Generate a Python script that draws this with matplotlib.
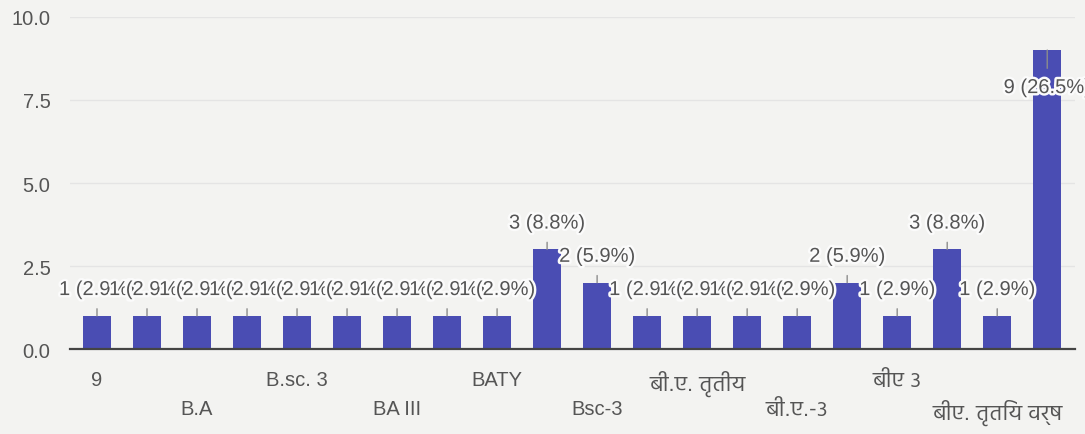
import matplotlib
matplotlib.use("Agg")
import matplotlib.pyplot as plt
import matplotlib.patheffects as pe
import numpy as np

# response counts per answer, in the order the form listed them
counts = [1, 1, 1, 1, 1, 1, 1, 1, 1, 3, 2, 1, 1, 1, 1, 2, 1, 3, 1, 9]
total = 34

# only every other answer gets a label on the axis
shown_labels = ["9", "B.A", "B.sc. 3", "BA III", "BATY", "Bsc-3",
                "बी.ए. तृतीय", "बी.ए.-३", "बीए ३", "बीए. तृतिय वर्ष"]

y_ticks = [0.0, 2.5, 5.0, 7.5, 10.0]

fonts = ["Liberation Sans", "Hind", "DejaVu Sans"]
bar_color = "#4a4db3"
text_color = "#555555"
paper = "#f3f3f1"

fig = plt.figure(figsize=(10.85, 4.35), dpi=100, facecolor=paper)
ax = fig.add_axes([0.0645, 0.195, 0.9265, 0.764], facecolor=paper)

x = np.arange(len(counts))
ax.bar(x, counts, width=0.57, color=bar_color, zorder=2)

ax.set_xlim(-0.54, 19.56)
ax.set_ylim(0, 10)
ax.set_yticks(y_ticks)
ax.set_yticklabels([f"{v:.1f}" for v in y_ticks], fontfamily=fonts,
                   fontsize=14.5, color=text_color)
ax.grid(axis="y", color="#e4e4e4", lw=1, zorder=0)
ax.tick_params(axis="both", length=0)
ax.tick_params(axis="y", pad=14)

ax.set_xticks(x[::2])
ax.set_xticklabels(shown_labels, fontfamily=fonts, fontsize=14.5,
                   color=text_color)
for i, tick in enumerate(ax.xaxis.get_major_ticks()):
    tick.set_pad(15 if i % 2 == 0 else 36)
for lbl in ax.get_xticklabels():
    # Devanagari runs small next to the Latin face, so bump it
    if any("\u0900" <= ch <= "\u097f" for ch in lbl.get_text()):
        lbl.set_fontsize(16)

for side in ["top", "right", "left"]:
    ax.spines[side].set_visible(False)
ax.spines["bottom"].set_color("#444444")
ax.spines["bottom"].set_linewidth(1.6)
ax.spines["bottom"].set_zorder(3)

# value labels with leader lines; each has a white halo so the later
# ones knock out the earlier ones where they collide
halo = [pe.withStroke(linewidth=3.5, foreground="#fbfbfb")]
for i, c in enumerate(counts):
    label = f"{c} ({c / total * 100:.1f}%)"
    inside = c > 8
    t = ax.annotate(label, xy=(i, c), xytext=(0, -27 if inside else 19),
                    textcoords="offset points", ha="center", va="center",
                    fontsize=14.5, color=text_color, fontfamily=fonts,
                    arrowprops=dict(arrowstyle="-", color="#8c8c8c", lw=1.0,
                                    shrinkA=5, shrinkB=0),
                    zorder=4 + i)
    t.set_path_effects(halo)
    t.arrow_patch.set_path_effects([pe.Normal()])

fig.savefig("out.png", dpi=100, facecolor=paper)
